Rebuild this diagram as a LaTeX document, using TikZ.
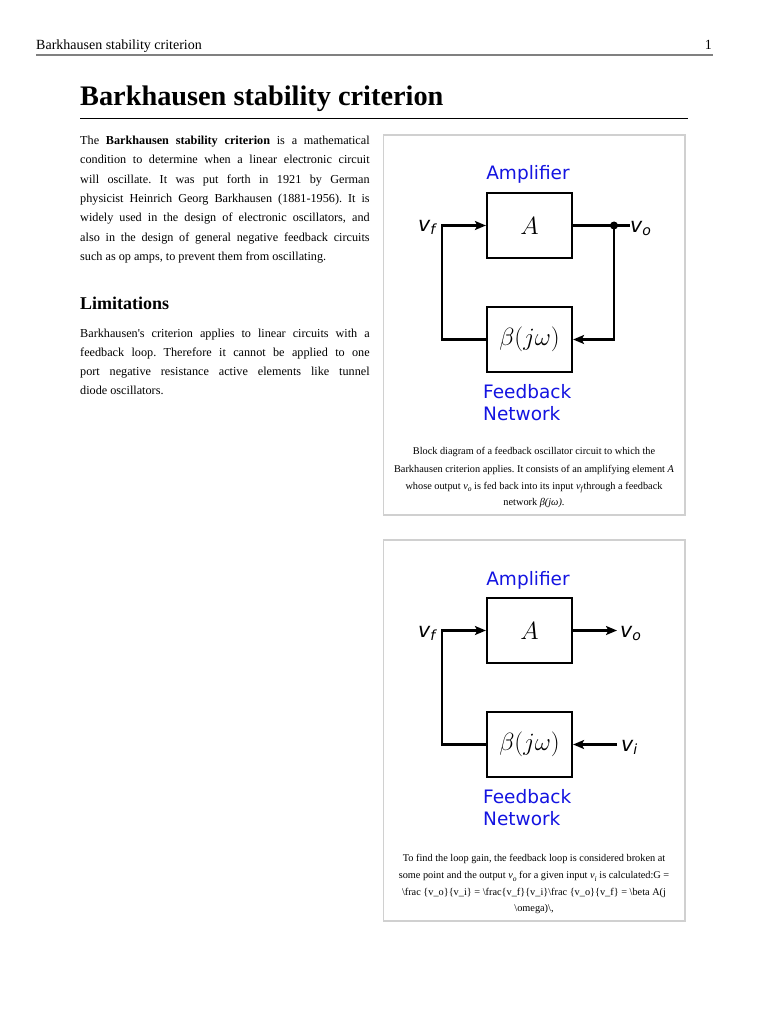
\documentclass[tikz,border=0pt]{standalone}
\usepackage{fontspec}
\setmainfont{Liberation Serif}
\newfontfamily\dvs{DejaVu Sans}
\usetikzlibrary{arrows.meta}
\definecolor{figblue}{RGB}{20,20,225}
\definecolor{framegray}{RGB}{208,208,208}
\newcommand{\vlab}[2]{{\dvs\itshape\fontsize{20.5}{20}\selectfont #1}\raisebox{-3pt}{\dvs\itshape\fontsize{14}{14}\selectfont #2}}
\newcommand{\capsub}[2]{\textit{#1}\raisebox{-2.5pt}{\fontsize{7.5}{8}\selectfont\textit{#2}}}
\newcommand{\jl}[1]{\makebox[289.5pt][s]{#1}}
\frenchspacing
\begin{document}
\begin{tikzpicture}[x=1pt,y=-1pt,
  body/.style={anchor=base west,inner sep=0,font=\fontsize{12.2}{14}\selectfont},
  capt/.style={anchor=base,inner sep=0,font=\fontsize{10.3}{12}\selectfont},
  blk/.style={draw,line width=2.2,minimum width=85,minimum height=65.6,inner sep=0},
  wire/.style={line width=2.2},
  tip/.style={-{Stealth[length=11pt,width=9pt,inset=2.5pt]}},
  bluetxt/.style={inner sep=0,text=figblue,font=\dvs\fontsize{18.5}{20}\selectfont},
  lab/.style={inner sep=0,anchor=base west},
  fig/.style={draw=framegray,line width=1.6}]
\useasboundingbox (0,0) rectangle (768,1024);
\fill[white] (0,0) rectangle (768,1024);

% header
\node[anchor=base west,inner sep=0,font=\fontsize{14}{16}\selectfont] (hd) at (36,50) {Barkhausen stability criterion};
\node[anchor=base east,inner sep=0,font=\fontsize{14}{16}\selectfont] (pg) at (712,50) {1};
\draw[gray,line width=1.5] (36,55) -- (713,55);

% title
\node[anchor=base west,inner sep=0,font=\bfseries\fontsize{28.3}{32}\selectfont] (title) at (80,106) {Barkhausen stability criterion};
\draw[black,line width=0.9] (80,118) -- (688,118);

% paragraph 1
\node[body] (p1) at (80,144.5) {\jl{The \textbf{Barkhausen stability criterion} is a mathematical}};
\node[body] (p2) at (80,163.8) {\jl{condition to determine when a linear electronic circuit}};
\node[body] (p3) at (80,183.1) {\jl{will oscillate. It was put forth in 1921 by German}};
\node[body] (p4) at (80,202.4) {\jl{physicist Heinrich Georg Barkhausen (1881-1956). It is}};
\node[body] (p5) at (80,221.7) {\jl{widely used in the design of electronic oscillators, and}};
\node[body] (p6) at (80,241.0) {\jl{also in the design of general negative feedback circuits}};
\node[body] (p7) at (80,260.3) {such as op amps, to prevent them from oscillating.};

\node[anchor=base west,inner sep=0,font=\bfseries\fontsize{18}{20}\selectfont] (lim) at (80,309) {Limitations};

\node[body] (q1) at (80,337.0) {\jl{Barkhausen\textquotesingle s criterion applies to linear circuits with a}};
\node[body] (q2) at (80,356.3) {\jl{feedback loop. Therefore it cannot be applied to one}};
\node[body] (q3) at (80,375.6) {\jl{port negative resistance active elements like tunnel}};
\node[body] (q4) at (80,394.9) {diode oscillators.};

% ---------- figure 1 ----------
\draw[fig] (383.5,135) rectangle (685,515);
\node[bluetxt,anchor=base] (amp1) at (528,180) {Amplifier};
\node[blk] (A1) at (529.5,225.5) {\fontsize{26}{30}\selectfont$A$};
\node[blk] (B1) at (529.5,339.5) {\fontsize{26}{30}\selectfont$\beta(j\omega)$};
\node[bluetxt,anchor=base west] (fb1) at (483,398.3) {Feedback};
\node[bluetxt,anchor=base west] (nw1) at (483,420) {Network};
\coordinate (L1) at (442.3,225.5);
\coordinate (D1) at (614,225.5);
\coordinate (E1) at (629.5,225.5);
\draw[wire,tip] (B1.west) -| (L1) -- (A1.west);
\draw[wire] (A1.east) -- (E1);
\draw[wire,tip] (D1) |- (B1.east);
\fill (D1) circle (4);
\node[lab] (vf1) at (418,232) {\vlab{v}{f}};
\node[lab] (vo1) at (630,232.5) {\vlab{v}{o}};

\node[capt] (c11) at (534,454.5) {Block diagram of a feedback oscillator circuit to which the};
\node[capt] (c12) at (534,472.5) {Barkhausen criterion applies. It consists of an amplifying element \textit{A}};
\node[capt] (c13) at (534,489) {whose output \capsub{v}{o} is fed back into its input \capsub{v}{f}through a feedback};
\node[capt] (c14) at (534,505.5) {network \textit{β(jω)}.};

% ---------- figure 2 ----------
\draw[fig] (383.5,540) rectangle (685,921);
\node[bluetxt,anchor=base] (amp2) at (528,585) {Amplifier};
\node[blk] (A2) at (529.5,630.5) {\fontsize{26}{30}\selectfont$A$};
\node[blk] (B2) at (529.5,744.5) {\fontsize{26}{30}\selectfont$\beta(j\omega)$};
\node[bluetxt,anchor=base west] (fb2) at (483,803.3) {Feedback};
\node[bluetxt,anchor=base west] (nw2) at (483,825) {Network};
\coordinate (L2) at (442.3,630.5);
\coordinate (O2) at (617,630.5);
\coordinate (I2) at (617,744.5);
\draw[wire,tip] (B2.west) -| (L2) -- (A2.west);
\draw[wire,tip] (A2.east) -- (O2);
\draw[wire,tip] (I2) -- (B2.east);
\node[lab] (vf2) at (418,637) {\vlab{v}{f}};
\node[lab] (vo2) at (620,637.5) {\vlab{v}{o}};
\node[lab] (vi2) at (621,751.5) {\vlab{v}{i}};

\node[capt] (c21) at (534,861.5) {To find the loop gain, the feedback loop is considered broken at};
\node[capt] (c22) at (534,878.5) {some point and the output \capsub{v}{o} for a given input \capsub{v}{i} is calculated:G =};
\node[capt] (c23) at (534,895) {\textbackslash frac \{v\_o\}\{v\_i\} = \textbackslash frac\{v\_f\}\{v\_i\}\textbackslash frac \{v\_o\}\{v\_f\} = \textbackslash beta A(j};
\node[capt] (c24) at (534,911.5) {\textbackslash omega)\textbackslash ,};
\end{tikzpicture}
\end{document}
